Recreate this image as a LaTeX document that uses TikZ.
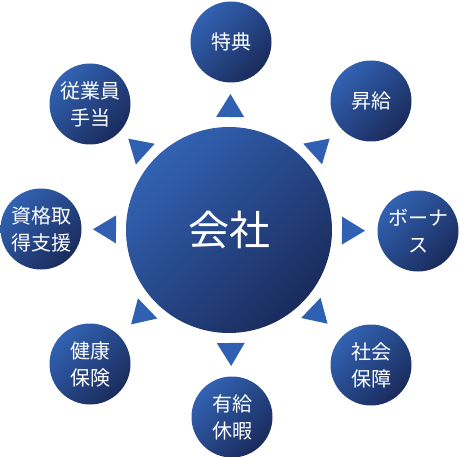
\documentclass[tikz,border=0pt]{standalone}
\usepackage{fontspec}
\setmainfont{Noto Sans CJK JP}
\usetikzlibrary{calc}
\definecolor{cLight}{HTML}{3262B2}
\definecolor{cMid}{HTML}{2A53A0}
\definecolor{cDark}{HTML}{1A2B5C}
\definecolor{triBlue}{HTML}{3060B2}
\tikzset{
  ball/.style={circle, draw=none, top color=cLight, middle color=cMid, bottom color=cDark,
    shading angle=45, text=white, align=center, inner sep=0pt},
  outer/.style={ball, minimum size=81pt, font=\fontsize{20}{27}\selectfont},
  hub/.style={ball, minimum size=206pt, font=\fontsize{41}{46}\selectfont},
  tri/.style={fill=triBlue, draw=none}
}
\newcommand{\arrowtri}[2]{%
  \coordinate (b#2) at ($(#1)!113pt!(#2)$);
  \fill[tri] ($(b#2)!14pt!90:(#2)$) -- ($(#1)!136pt!(#2)$) -- ($(b#2)!14pt!-90:(#2)$) -- cycle;
}
\begin{document}
\begin{tikzpicture}[x=1pt,y=-1pt]
\useasboundingbox (0,0) rectangle (460,457);
\node[hub] (c) at (229,230) {会社};
\node[outer] (o1) at (231,42) {特典};
\node[outer] (o2) at (371,101) {昇給};
\node[outer] (o3) at (418,231) {ボーナ\\ス};
\node[outer] (o4) at (371,365) {社会\\保障};
\node[outer] (o5) at (232,417) {有給\\休暇};
\node[outer] (o6) at (90,364) {健康\\保険};
\node[outer] (o7) at (41,229) {資格取\\得支援};
\node[outer] (o8) at (90,104) {従業員\\手当};
\arrowtri{c}{o1}
\arrowtri{c}{o2}
\arrowtri{c}{o3}
\arrowtri{c}{o4}
\arrowtri{c}{o5}
\arrowtri{c}{o6}
\arrowtri{c}{o7}
\arrowtri{c}{o8}
\end{tikzpicture}
\end{document}
